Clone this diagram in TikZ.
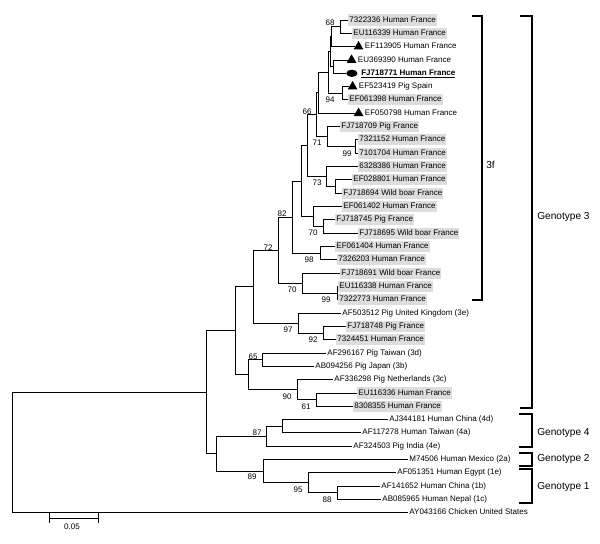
\documentclass[tikz,border=0pt]{standalone}
\usepackage{fontspec}
\setmainfont{Liberation Sans}
\usepackage{tikz}
\usetikzlibrary{arrows}
\usetikzlibrary{positioning}
\usetikzlibrary{shapes.geometric}
\definecolor{boxgray}{RGB}{221,221,221}
\tikzset{leaf/.style = {anchor = west, inner xsep = 0.8pt, inner ysep = 1.2pt, text height = 4.2pt, text depth = 1.3pt, font = \fontsize{5.7}{6.8}\selectfont}}
\tikzset{boxed/.style = {leaf, fill = boxgray}}
\tikzset{boot/.style = {inner sep = 0, font = \fontsize{5.7}{6.8}\selectfont}}
\tikzset{tri/.style = {fill, regular polygon, regular polygon sides = 3, inner sep = 0, minimum size = 8pt, anchor = west}}
\tikzset{ell/.style = {fill, ellipse, inner sep = 0, minimum width = 8pt, minimum height = 5.2pt, anchor = west}}
\tikzset{branch/.style = {line width = 0.7pt}}
\tikzset{brack/.style = {line width = 1.4pt}}
\tikzset{group/.style = {anchor = west, inner sep = 0, font = \fontsize{7.2}{8.6}\selectfont}}

\begin{document}
\begin{tikzpicture}[x = 0.025cm, y = -0.025cm]
      \useasboundingbox (0, 0) rectangle (600, 544);

      % leaves, top to bottom
      \node [boxed] at (348, 20.0) (l1) {7322336 Human France};
      \node [boxed] at (352, 33.3) (l2) {EU116339 Human France};
      \node [tri] at (355, 46.6) (m3) {};
      \node [leaf, right = 1pt of m3] (l3) {EF113905 Human France};
      \node [tri] at (348, 60.0) (m4) {};
      \node [leaf, right = 1pt of m4] (l4) {EU369390 Human France};
      \node [ell] at (346, 73.3) (m5) {};
      \node [leaf, right = 1.5pt of m5] (l5) {\underline{\textbf{FJ718771 Human France}}};
      \node [tri] at (349, 86.6) (m6) {};
      \node [leaf, right = 1pt of m6] (l6) {EF523419 Pig Spain};
      \node [boxed] at (348, 99.9) (l7) {EF061398 Human France};
      \node [tri] at (355, 113.2) (m8) {};
      \node [leaf, right = 1pt of m8] (l8) {EF050798 Human France};
      \node [boxed] at (340, 126.6) (l9) {FJ718709 Pig France};
      \node [boxed] at (358, 139.9) (l10) {7321152 Human France};
      \node [boxed] at (358, 153.2) (l11) {7101704 Human France};
      \node [boxed] at (358, 166.5) (l12) {6328386 Human France};
      \node [boxed] at (352, 179.8) (l13) {EF028801 Human France};
      \node [boxed] at (342, 193.2) (l14) {FJ718694 Wild boar France};
      \node [boxed] at (342, 206.5) (l15) {EF061402 Human France};
      \node [boxed] at (335, 219.8) (l16) {FJ718745 Pig France};
      \node [boxed] at (358, 233.1) (l17) {FJ718695 Wild boar France};
      \node [boxed] at (335, 246.4) (l18) {EF061404 Human France};
      \node [boxed] at (337, 259.8) (l19) {7326203 Human France};
      \node [boxed] at (340, 273.1) (l20) {FJ718691 Wild boar France};
      \node [boxed] at (338, 286.4) (l21) {EU116338 Human France};
      \node [boxed] at (338, 299.7) (l22) {7322773 Human France};
      \node [leaf] at (341, 313.0) (l23) {AF503512 Pig United Kingdom (3e)};
      \node [boxed] at (346, 326.4) (l24) {FJ718748 Pig France};
      \node [boxed] at (336, 339.7) (l25) {7324451 Human France};
      \node [leaf] at (326, 353.0) (l26) {AF296167 Pig Taiwan (3d)};
      \node [leaf] at (314, 366.3) (l27) {AB094256 Pig Japan (3b)};
      \node [leaf] at (333, 379.6) (l28) {AF336298 Pig Netherlands (3c)};
      \node [boxed] at (357, 393.0) (l29) {EU116336 Human France};
      \node [boxed] at (353, 406.3) (l30) {8308355 Human France};
      \node [leaf] at (388, 419.6) (l31) {AJ344181 Human China (4d)};
      \node [leaf] at (361, 432.9) (l32) {AF117278 Human Taiwan (4a)};
      \node [leaf] at (352, 446.2) (l33) {AF324503 Pig India (4e)};
      \node [leaf] at (408, 459.6) (l34) {M74506 Human Mexico (2a)};
      \node [leaf] at (396, 472.9) (l35) {AF051351 Human Egypt (1e)};
      \node [leaf] at (380, 486.2) (l36) {AF141652 Human China (1b)};
      \node [leaf] at (381, 499.5) (l37) {AB085965 Human Nepal (1c)};
      \node [leaf] at (408, 512.8) (l38) {AY043166 Chicken United States};

      % inner nodes
      \coordinate (n68) at (340, 26.7);
      \coordinate (w3) at (331, 36.6);
      \coordinate (nef) at (333, 66.6);
      \coordinate (w2) at (330, 51.6);
      \coordinate (n94) at (342, 93.3);
      \coordinate (w1) at (328, 72.4);
      \coordinate (w0) at (318, 92.8);
      \coordinate (n99a) at (355, 146.6);
      \coordinate (n71) at (327, 136.6);
      \coordinate (n66) at (316, 114.7);
      \coordinate (n73b) at (335, 186.5);
      \coordinate (n73) at (326, 176.5);
      \coordinate (n307) at (307, 145.6);
      \coordinate (n70a) at (323, 226.5);
      \coordinate (n313) at (313, 216.5);
      \coordinate (n302) at (301, 181.0);
      \coordinate (n98) at (320, 253.1);
      \coordinate (n82) at (292, 217.0);
      \coordinate (n99b) at (337, 293.0);
      \coordinate (n70b) at (302, 283.0);
      \coordinate (n72) at (278, 250.0);
      \coordinate (n92) at (323, 333.0);
      \coordinate (n97) at (298, 323.0);
      \coordinate (nc) at (253, 286.5);
      \coordinate (n65) at (262, 359.7);
      \coordinate (n61) at (316, 399.6);
      \coordinate (n90) at (297, 389.6);
      \coordinate (n248) at (248, 374.6);
      \coordinate (nb) at (235, 330.6);
      \coordinate (n4a) at (282, 426.3);
      \coordinate (n87) at (266, 436.2);
      \coordinate (n88) at (337, 492.9);
      \coordinate (n95) at (308, 482.9);
      \coordinate (n89) at (263, 471.2);
      \coordinate (n216) at (216, 453.7);
      \coordinate (na) at (206, 392.2);
      \coordinate (root) at (12, 452.5);

      % branches
      \draw [branch] (n68) |- (l1.west);
      \draw [branch] (n68) |- (l2.west);
      \draw [branch] (w3) |- (n68);
      \draw [branch] (w3) |- (m3.west);
      \draw [branch] (nef) |- (m4.west);
      \draw [branch] (nef) |- (m5.west);
      \draw [branch] (w2) |- (w3);
      \draw [branch] (w2) |- (nef);
      \draw [branch] (n94) |- (m6.west);
      \draw [branch] (n94) |- (l7.west);
      \draw [branch] (w1) |- (w2);
      \draw [branch] (w1) |- (n94);
      \draw [branch] (w0) |- (w1);
      \draw [branch] (w0) |- (m8.west);
      \draw [branch] (n99a) |- (l10.west);
      \draw [branch] (n99a) |- (l11.west);
      \draw [branch] (n71) |- (l9.west);
      \draw [branch] (n71) |- (n99a);
      \draw [branch] (n66) |- (w0);
      \draw [branch] (n66) |- (n71);
      \draw [branch] (n73b) |- (l13.west);
      \draw [branch] (n73b) |- (l14.west);
      \draw [branch] (n73) |- (l12.west);
      \draw [branch] (n73) |- (n73b);
      \draw [branch] (n307) |- (n66);
      \draw [branch] (n307) |- (n73);
      \draw [branch] (n70a) |- (l16.west);
      \draw [branch] (n70a) |- (l17.west);
      \draw [branch] (n313) |- (l15.west);
      \draw [branch] (n313) |- (n70a);
      \draw [branch] (n302) |- (n307);
      \draw [branch] (n302) |- (n313);
      \draw [branch] (n98) |- (l18.west);
      \draw [branch] (n98) |- (l19.west);
      \draw [branch] (n82) |- (n302);
      \draw [branch] (n82) |- (n98);
      \draw [branch] (n99b) |- (l21.west);
      \draw [branch] (n99b) |- (l22.west);
      \draw [branch] (n70b) |- (l20.west);
      \draw [branch] (n70b) |- (n99b);
      \draw [branch] (n72) |- (n82);
      \draw [branch] (n72) |- (n70b);
      \draw [branch] (n92) |- (l24.west);
      \draw [branch] (n92) |- (l25.west);
      \draw [branch] (n97) |- (l23.west);
      \draw [branch] (n97) |- (n92);
      \draw [branch] (nc) |- (n72);
      \draw [branch] (nc) |- (n97);
      \draw [branch] (n65) |- (l26.west);
      \draw [branch] (n65) |- (l27.west);
      \draw [branch] (n61) |- (l29.west);
      \draw [branch] (n61) |- (l30.west);
      \draw [branch] (n90) |- (l28.west);
      \draw [branch] (n90) |- (n61);
      \draw [branch] (n248) |- (n65);
      \draw [branch] (n248) |- (n90);
      \draw [branch] (nb) |- (nc);
      \draw [branch] (nb) |- (n248);
      \draw [branch] (n4a) |- (l31.west);
      \draw [branch] (n4a) |- (l32.west);
      \draw [branch] (n87) |- (n4a);
      \draw [branch] (n87) |- (l33.west);
      \draw [branch] (n88) |- (l36.west);
      \draw [branch] (n88) |- (l37.west);
      \draw [branch] (n95) |- (l35.west);
      \draw [branch] (n95) |- (n88);
      \draw [branch] (n89) |- (l34.west);
      \draw [branch] (n89) |- (n95);
      \draw [branch] (n216) |- (n87);
      \draw [branch] (n216) |- (n89);
      \draw [branch] (na) |- (nb);
      \draw [branch] (na) |- (n216);
      \draw [branch] (root) |- (na);
      \draw [branch] (root) |- (l38.west);

      % bootstrap values
      \node [boot] at (330, 23) (b68) {68};
      \node [boot] at (330, 100) (b94) {94};
      \node [boot] at (307, 112) (b66) {66};
      \node [boot] at (317, 143) (b71) {71};
      \node [boot] at (347, 154) (b99a) {99};
      \node [boot] at (317, 183) (b73) {73};
      \node [boot] at (313, 233) (b70a) {70};
      \node [boot] at (282, 214) (b82) {82};
      \node [boot] at (309, 260) (b98) {98};
      \node [boot] at (268, 248) (b72) {72};
      \node [boot] at (292, 290) (b70b) {70};
      \node [boot] at (326, 300) (b99b) {99};
      \node [boot] at (288, 330) (b97) {97};
      \node [boot] at (313, 340) (b92) {92};
      \node [boot] at (253, 357) (b65) {65};
      \node [boot] at (287, 397) (b90) {90};
      \node [boot] at (306, 407) (b61) {61};
      \node [boot] at (257, 433) (b87) {87};
      \node [boot] at (252, 477) (b89) {89};
      \node [boot] at (298, 490) (b95) {95};
      \node [boot] at (327, 500) (b88) {88};

      % groups
      \draw [brack] (472, 16) -- (482, 16) -- (482, 300) -- (472, 300);
      \node [group] at (486, 165) (g3f) {3f};
      \draw [brack] (520, 16) -- (532, 16) -- (532, 408) -- (520, 408);
      \node [group] at (537, 217) (g3) {Genotype 3};
      \draw [brack] (519, 414) -- (532, 414) -- (532, 447) -- (519, 447);
      \node [group] at (537, 433) (g4) {Genotype 4};
      \draw [brack] (519, 453) -- (532, 453) -- (532, 466) -- (519, 466);
      \node [group] at (537, 459) (g2) {Genotype 2};
      \draw [brack] (519, 469) -- (532, 469) -- (532, 503) -- (519, 503);
      \node [group] at (537, 487) (g1) {Genotype 1};

      % scale bar
      \draw [branch, |-|] (49, 518) -- (99, 518);
      \node [boot] at (72, 527) (scale) {0.05};
\end{tikzpicture}
\end{document}
